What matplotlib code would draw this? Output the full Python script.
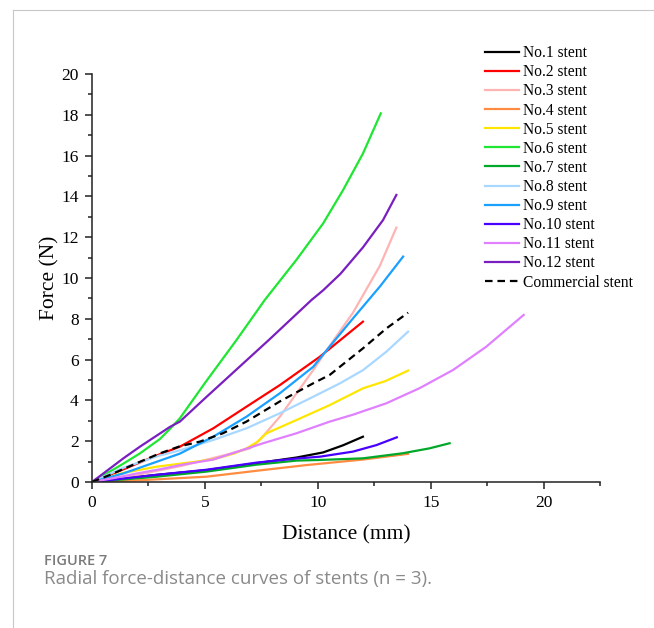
import numpy as np
import matplotlib.pyplot as plt
from matplotlib.lines import Line2D
from matplotlib.ticker import MultipleLocator

# Radial force (N) vs distance (mm)
labels = ["No.1 stent", "No.2 stent", "No.3 stent", "No.4 stent", "No.5 stent",
          "No.6 stent", "No.7 stent", "No.8 stent", "No.9 stent", "No.10 stent",
          "No.11 stent", "No.12 stent", "Commercial stent"]

x1 = [0, 1, 2.86, 5.07, 7.29, 9.06, 10.24, 11.12, 12.0]
y1 = [0, 0.12, 0.35, 0.58, 0.92, 1.2, 1.45, 1.8, 2.22]

x2 = [0, 1.39, 2.86, 3.89, 5.37, 6.84, 8.32, 10.09, 12.0]
y2 = [0, 0.62, 1.3, 1.73, 2.63, 3.69, 4.75, 6.14, 7.86]

x3 = [0, 2, 4, 6, 7.0, 7.43, 8.32, 9.06, 9.8, 10.4, 11.56, 12.75, 13.48]
y3 = [0, 0.35, 0.8, 1.35, 1.65, 2.06, 3.2, 4.35, 5.49, 6.47, 8.3, 10.6, 12.47]

x4 = [0, 2, 5.07, 7.29, 9.5, 12.0, 14.0]
y4 = [0, 0.08, 0.26, 0.55, 0.83, 1.1, 1.38]

x5 = [0, 1.4, 2.86, 4.78, 5.37, 6.3, 6.84, 7.3, 7.73, 9.06, 10.53, 12.0, 13.0, 14.0]
y5 = [0, 0.45, 0.75, 1.02, 1.11, 1.4, 1.65, 1.95, 2.39, 3.04, 3.77, 4.59, 4.95, 5.46]

x6 = [0, 1.39, 2.12, 3.0, 3.45, 3.89, 5.0, 6.4, 7.65, 9.06, 10.24, 11.12, 12.0, 12.79]
y6 = [0, 0.9, 1.4, 2.1, 2.6, 3.12, 4.85, 6.96, 8.92, 10.9, 12.68, 14.31, 16.1, 18.07]

x7 = [0, 2.86, 5.07, 7.29, 9.06, 10.09, 12.0, 13.77, 14.95, 15.84]
y7 = [0, 0.26, 0.51, 0.85, 1.05, 1.08, 1.16, 1.41, 1.65, 1.9]

x8 = [0, 1.39, 3.0, 3.89, 5.37, 6.84, 8.32, 9.8, 10.97, 12.0, 13.04, 14.0]
y8 = [0, 0.7, 1.3, 1.55, 2.06, 2.63, 3.37, 4.18, 4.83, 5.48, 6.39, 7.37]

x9 = [0, 1.39, 2.5, 3.89, 5.37, 6.84, 8.32, 9.8, 10.4, 11.56, 12.75, 13.78]
y9 = [0, 0.42, 0.85, 1.39, 2.22, 3.2, 4.35, 5.65, 6.47, 8.02, 9.58, 11.05]

x10 = [0, 2.86, 5.07, 7.29, 9.06, 10.09, 11.56, 12.6, 13.5]
y10 = [0, 0.35, 0.6, 0.95, 1.15, 1.24, 1.49, 1.81, 2.19]

x11 = [0, 1, 2, 3, 4, 5.37, 7.58, 9.06, 10.53, 11.56, 13.04, 14.51, 15.99, 17.46, 19.12]
y11 = [0, 0.2, 0.42, 0.62, 0.85, 1.1, 1.9, 2.39, 2.96, 3.3, 3.86, 4.6, 5.49, 6.63, 8.19]

x12 = [0, 1.39, 2.12, 3.45, 3.89, 5.0, 7.83, 9.72, 10.24, 11.0, 12.0, 12.89, 13.48]
y12 = [0, 1.16, 1.73, 2.7, 2.96, 4.1, 6.96, 8.92, 9.4, 10.2, 11.5, 12.84, 14.07]

xc = [0, 0.8, 2.12, 3.0, 3.89, 4.78, 5.8, 6.84, 8.32, 9.8, 10.53, 12.0, 13.04, 14.0]
yc = [0, 0.35, 0.99, 1.4, 1.75, 1.98, 2.39, 2.96, 3.95, 4.84, 5.25, 6.55, 7.53, 8.3]

xs = [x1, x2, x3, x4, x5, x6, x7, x8, x9, x10, x11, x12, xc]
ys = [y1, y2, y3, y4, y5, y6, y7, y8, y9, y10, y11, y12, yc]
colors = ['#000000', '#ff0000', '#ffb4b4', '#ff8c40', '#ffe600', '#1ee632',
          '#00a82a', '#a8d8ff', '#1aa0ff', '#4a00ff', '#e080ff', '#7a1fbf', '#000000']

W, H = 654, 628
fig = plt.figure(figsize=(W / 100, H / 100), dpi=100)

# card border of the page
fig.add_artist(Line2D([13 / W, 13 / W], [0, 1 - 10 / H], color='#c8c8c8', lw=0.8))
fig.add_artist(Line2D([13 / W, 1], [1 - 10 / H, 1 - 10 / H], color='#c8c8c8', lw=0.8))

ax = fig.add_axes([92 / W, 1 - 482 / H, (600 - 92) / W, (482 - 74) / H])

handles = []
for i in range(13):
    ls = (0, (3.4, 2.2)) if i == 12 else '-'
    h, = ax.plot(xs[i], ys[i], color=colors[i], lw=1.6, ls=ls, label=labels[i],
                 solid_joinstyle='round')
    handles.append(h)

ax.set_xlim(0, 22.5)
ax.set_ylim(0, 20)
ax.xaxis.set_major_locator(MultipleLocator(5))
ax.xaxis.set_minor_locator(MultipleLocator(2.5))
ax.yaxis.set_major_locator(MultipleLocator(2))
ax.yaxis.set_minor_locator(MultipleLocator(1))

for s in ['top', 'right']:
    ax.spines[s].set_visible(False)
for s in ['left', 'bottom']:
    ax.spines[s].set_linewidth(1.1)
    ax.spines[s].set_color('#222222')

serif = 'Liberation Serif'
ax.tick_params(which='major', direction='out', length=5, width=1.1, color='#222222',
               labelsize=12.5, pad=4.5)
ax.tick_params(which='minor', direction='out', length=3, width=1.1, color='#222222')
for t in ax.get_xticklabels() + ax.get_yticklabels():
    t.set_fontfamily(serif)

ax.set_xlabel('Distance (mm)', fontsize=15.5, family=serif, labelpad=10)
ax.set_ylabel('Force (N)', fontsize=15.5, family=serif, labelpad=1)

fig.legend(handles=handles, labels=labels, loc='upper left',
           bbox_to_anchor=(479 / W, 1 - 39 / H), frameon=False,
           prop={'family': serif, 'size': 11.2}, handlelength=2.2,
           handletextpad=0.25, labelspacing=0.2, borderaxespad=0)

fig.text(44 / W, 1 - 565 / H, 'FIGURE 7', fontsize=10.5, fontweight='semibold',
         color='#7a7a7a', family='Open Sans')
fig.text(44 / W, 1 - 584 / H, 'Radial force-distance curves of stents (n = 3).',
         fontsize=13.5, color='#8a8a8a', family='Open Sans')

fig.savefig('out.png', dpi=100)
